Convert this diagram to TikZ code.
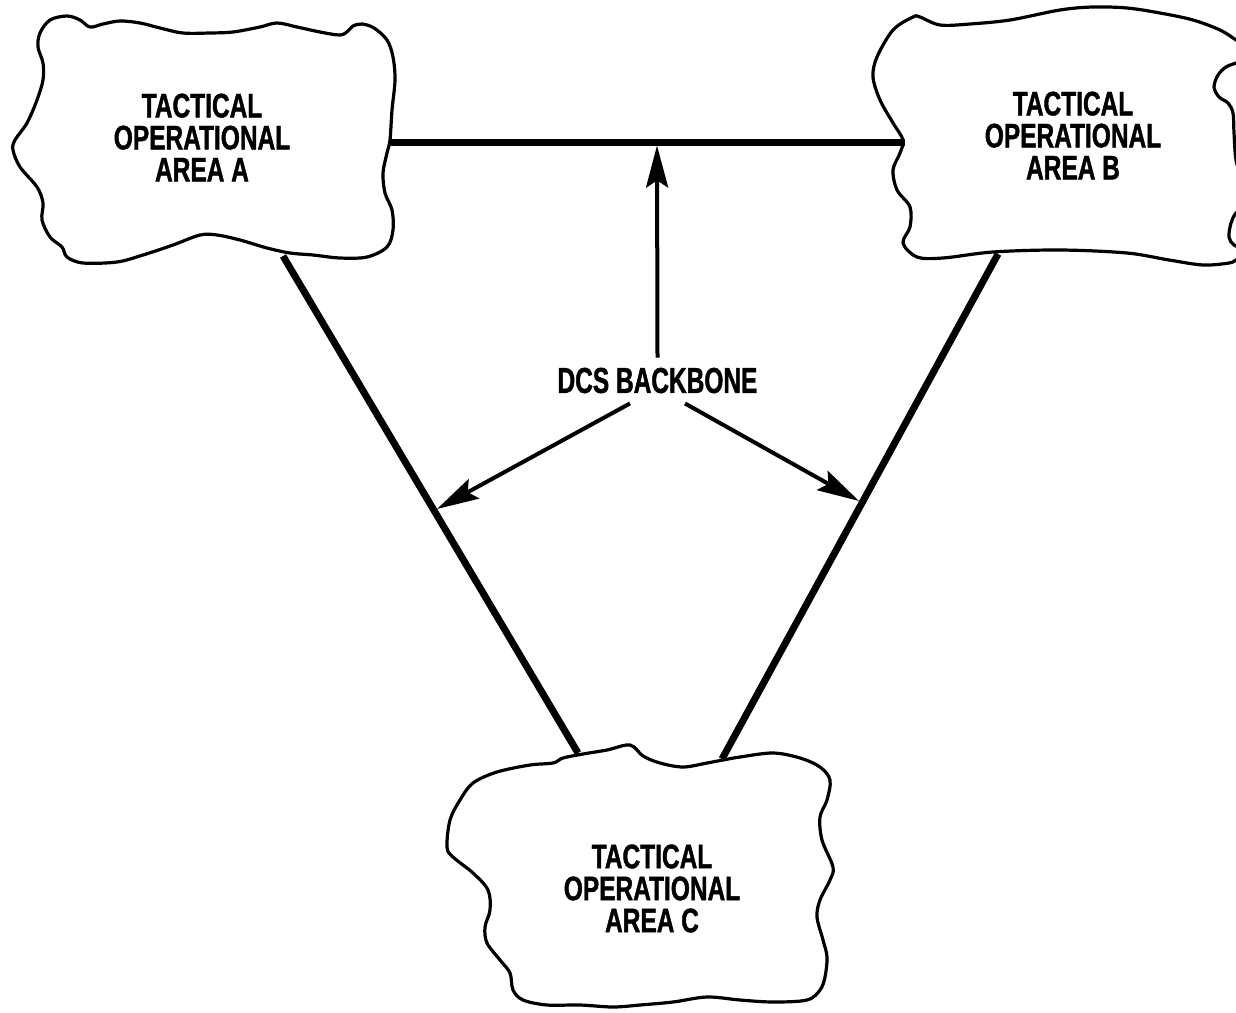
\documentclass[tikz,border=0pt]{standalone}
\usepackage{fontspec}
\usetikzlibrary{arrows.meta,calc}
\newfontfamily\cloudfont{Liberation Sans}[FakeStretch=0.72,FakeBold=1.2]
\newfontfamily\labelfont{Liberation Sans}[FakeStretch=0.68,FakeBold=1.2]

\tikzset{
  outline/.style={line width=3.2pt, line join=round, smooth, tension=0.55},
  link/.style={line width=7pt},
  pointer/.style={line width=4pt, -{Stealth[length=42pt,width=22pt,inset=7pt]}},
  areatext/.style={align=center, inner sep=0pt,
    font=\cloudfont\bfseries\fontsize{34}{32}\selectfont},
  backbonetext/.style={inner sep=10pt,
    font=\labelfont\bfseries\fontsize{36}{37}\selectfont}
}

\begin{document}
\begin{tikzpicture}[x=1pt,y=-1pt]
\useasboundingbox (0,0) rectangle (1236,1012);
\fill[white] (0,0) rectangle (1236,1012);
\clip (0,0) rectangle (1236,1012);

% ---- area A outline
\draw[outline] plot[smooth cycle] coordinates {
  (40,33) (50,20) (67,16) (80,20) (90,27) (103,24) (120,21) (140,23)
  (160,28) (183,33) (210,33) (233,32) (260,27) (277,23) (297,27) (320,32)
  (340,35) (348,31) (353,26) (362,24) (374,28) (387,40) (393,57) (395,80)
  (392,110) (390,140) (387,153) (383,173) (385,193) (392,210) (393,230)
  (387,247) (367,257) (340,258) (313,255) (290,253) (267,248) (240,240)
  (217,235) (200,235) (173,245) (143,255) (117,262) (83,263) (67,257)
  (62,247) (50,237) (42,220) (43,203) (37,187) (20,167) (13,150) (15,140)
  (27,123) (37,100) (43,80) (43,63) (38,47)};

% ---- area B outline (runs past the right edge)
\draw[outline] plot[smooth] coordinates {
  (1248,48) (1236,40) (1220,30) (1193,20) (1160,13) (1127,8) (1093,7)
  (1060,10) (1010,20) (970,24) (940,25) (920,17) (913,17) (893,30)
  (877,57) (873,77) (880,100) (893,123) (903,140) (900,153) (893,170)
  (897,190) (910,207) (910,227) (903,243) (917,257) (943,258) (993,252)
  (1060,250) (1127,253) (1169,260) (1203,265) (1229,263) (1236,260)
  (1248,254)};
\draw[outline] plot[smooth] coordinates {
  (1248,58) (1236,63) (1226,67) (1218,75) (1214,87) (1219,97) (1228,103)
  (1233,113) (1234,133) (1236,160) (1242,180)};
\draw[outline] plot[smooth] coordinates {
  (1246,205) (1236,213) (1231,223) (1229,237) (1234,245) (1246,250)};

% ---- area C outline
\draw[outline] plot[smooth cycle] coordinates {
  (630,745) (643,756) (660,763) (683,767) (707,763) (723,760) (740,757)
  (773,753) (800,758) (820,767) (830,780) (827,800) (820,817) (822,840)
  (833,867) (830,880) (820,900) (817,917) (823,940) (827,957) (825,977)
  (820,990) (807,1000) (773,1002) (740,1000) (707,997) (673,1002)
  (640,1005) (613,1007) (580,1005) (547,1005) (523,1000) (513,990)
  (510,973) (500,960) (487,943) (485,927) (490,910) (488,890) (473,873)
  (453,857) (447,847) (450,820) (460,800) (473,783) (497,772) (530,765)
  (553,763) (563,758) (583,754) (607,750)};

% ---- area labels
\node[areatext] (A) at (202,137.5) {TACTICAL\\OPERATIONAL\\AREA A};
\node[areatext] (B) at (1073,135.5) {TACTICAL\\OPERATIONAL\\AREA B};
\node[areatext] (C) at (652,888.5) {TACTICAL\\OPERATIONAL\\AREA C};

% ---- attachment points on the area outlines
\coordinate (aE) at (391,142);
\coordinate (aS) at (283,256);
\coordinate (bW) at (905,142);
\coordinate (bS) at (998,254);
\coordinate (cNW) at (578,753);
\coordinate (cNE) at (722,759);

% ---- backbone links
\draw[link] (aE) -- (bW);
\draw[link] (aS) -- (cNW);
\draw[link] (bS) -- (cNE);

% ---- backbone label and its pointers
\node[backbonetext] (dcs) at (657.5,380.5) {DCS BACKBONE};
\coordinate (tAB) at (657,145.5);
\coordinate (tAC) at (437,509);
\coordinate (tBC) at (859,501);
\draw[pointer] (dcs.north) -- (tAB);
\draw[pointer] ($(dcs.south)+(-27.5,0)$) -- (tAC);
\draw[pointer] ($(dcs.south)+(27.5,0)$) -- (tBC);
\end{tikzpicture}
\end{document}
